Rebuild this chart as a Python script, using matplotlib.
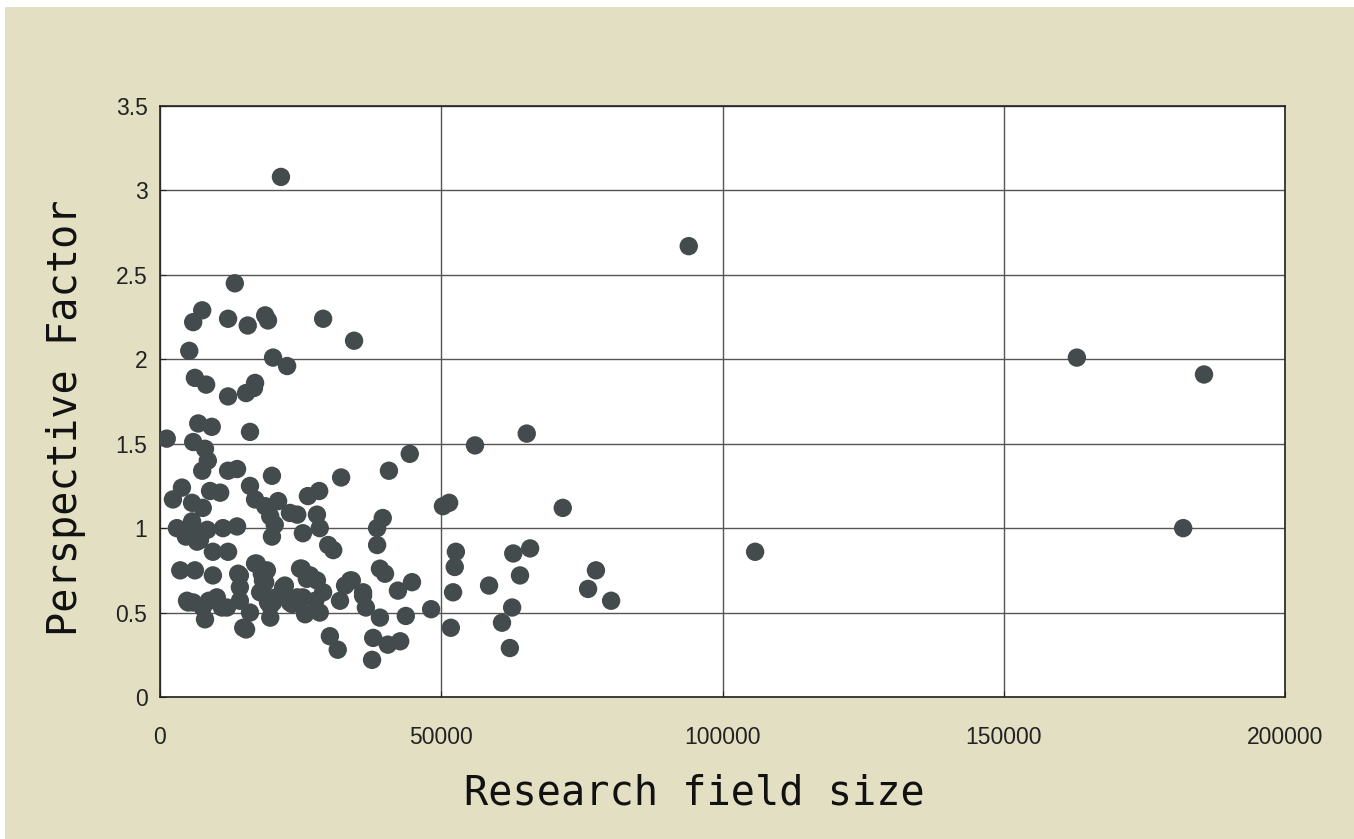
import matplotlib
matplotlib.use("Agg")
import matplotlib.pyplot as plt
from matplotlib.patches import Rectangle

# research field size vs perspective factor
field_size = [
    21500, 13300,
    5900, 7500, 12100, 15600, 18700, 19200, 29000, 34500,
    5200, 20100, 22600,
    6200, 8200, 16900, 16700, 12100, 15300,
    6800, 9200, 16000, 1200, 5900, 8000, 8500, 7500, 12100, 13700,
    19900, 32200, 40700, 56000, 65200, 44400,
    3900, 2300, 5700, 7600, 8900, 10700, 16000, 16900, 18700, 21000,
    19600, 23100, 24400, 26300, 28300, 27900, 28400, 20400, 19900, 25400,
    29900, 30800, 38600, 39600, 38600, 3000, 5700, 5900, 6600, 8400,
    11200, 13700, 9400, 12100, 7100, 4600, 5000,
    50300, 51400, 71600, 52600, 62800, 65800, 105800,
    3600, 6200, 9400, 13900, 14200, 16900, 18100, 18700, 17800, 19200,
    21900, 25200, 26100, 29000, 32000, 33800, 36100, 39100, 40000, 42300,
    44800,
    5000, 7600, 8000, 10100, 11900, 16000, 14800, 15300, 20100, 19600,
    23500, 25800, 28400, 25400, 30200, 31600, 36100, 36600, 39100, 37900,
    37700, 40500, 42700, 48200, 43700, 52100, 51700, 58500, 62600, 60800,
    62200, 64000, 76100, 77500, 80200, 52400,
    4800, 5900, 8700, 11000, 14200, 18300, 19600, 20600, 23100, 24400,
    27600, 32900, 34100, 24900, 26700, 27900, 22200, 19000, 18300, 17200,
    14200,
    94000, 163000, 185600, 181900,
]
perspective = [
    3.08, 2.45,
    2.22, 2.29, 2.24, 2.20, 2.26, 2.23, 2.24, 2.11,
    2.05, 2.01, 1.96,
    1.89, 1.85, 1.86, 1.83, 1.78, 1.80,
    1.62, 1.60, 1.57, 1.53, 1.51, 1.47, 1.40, 1.34, 1.34, 1.35,
    1.31, 1.30, 1.34, 1.49, 1.56, 1.44,
    1.24, 1.17, 1.15, 1.12, 1.22, 1.21, 1.25, 1.17, 1.13, 1.16,
    1.07, 1.09, 1.08, 1.19, 1.22, 1.08, 1.00, 1.02, 0.95, 0.97,
    0.90, 0.87, 1.00, 1.06, 0.90, 1.00, 1.04, 0.96, 0.92, 0.99,
    1.00, 1.01, 0.86, 0.86, 0.93, 0.95, 0.98,
    1.13, 1.15, 1.12, 0.86, 0.85, 0.88, 0.86,
    0.75, 0.75, 0.72, 0.73, 0.65, 0.79, 0.73, 0.68, 0.62, 0.56,
    0.65, 0.76, 0.70, 0.62, 0.57, 0.69, 0.62, 0.76, 0.73, 0.63,
    0.68,
    0.56, 0.53, 0.46, 0.59, 0.53, 0.50, 0.41, 0.40, 0.56, 0.47,
    0.55, 0.49, 0.50, 0.59, 0.36, 0.28, 0.60, 0.53, 0.47, 0.35,
    0.22, 0.31, 0.33, 0.52, 0.48, 0.62, 0.41, 0.66, 0.53, 0.44,
    0.29, 0.72, 0.64, 0.75, 0.57, 0.77,
    0.57, 0.56, 0.57, 0.53, 0.57, 0.62, 0.54, 0.59, 0.56, 0.59,
    0.57, 0.66, 0.69, 0.76, 0.72, 0.69, 0.66, 0.75, 0.69, 0.79,
    0.72,
    2.67, 2.01, 1.91, 1.00,
]

x_ticks = [0, 50000, 100000, 150000, 200000]
y_ticks = [0, 0.5, 1, 1.5, 2, 2.5, 3, 3.5]
y_tick_labels = ["0", "0.5", "1", "1.5", "2", "2.5", "3", "3.5"]

W, H = 1354, 839
fig = plt.figure(figsize=(W / 100, H / 100), dpi=100, facecolor="white")
bg = Rectangle((5 / W, 0), 1, (H - 7) / H, transform=fig.transFigure,
               facecolor="#e3dfc3", edgecolor="none", zorder=-10)
fig.add_artist(bg)

ax = fig.add_axes([160 / W, (H - 697) / H, 1125 / W, 591 / H])
ax.set_zorder(5)
ax.set_facecolor("white")
ax.scatter(field_size, perspective, s=175, color="#434b4d", edgecolors="none",
           zorder=3)

ax.set_xlim(0, 200000)
ax.set_ylim(0, 3.5)
ax.set_xticks(x_ticks)
ax.set_xticklabels([str(t) for t in x_ticks])
ax.set_yticks(y_ticks)
ax.set_yticklabels(y_tick_labels)
ax.grid(True, color="#555555", linewidth=1.0, zorder=1)
ax.set_axisbelow(True)
for s in ax.spines.values():
    s.set_color("#222222")
    s.set_linewidth(1.2)
ax.tick_params(direction="in", length=4, color="#222222", pad=9,
               labelsize=16.5, labelcolor="#222222")
for lab in ax.get_xticklabels() + ax.get_yticklabels():
    lab.set_fontfamily("Liberation Sans")
ax.tick_params(axis="x", pad=21)

ax.set_xlabel("Research field size", fontsize=29, family="DejaVu Sans Mono",
              color="#111111")
ax.set_ylabel("Perspective Factor", fontsize=29, family="DejaVu Sans Mono",
              color="#111111")
ax.xaxis.set_label_coords(0.475, -0.13)
ax.yaxis.set_label_coords(-0.066, 0.472)

fig.savefig("out.png", dpi=100, facecolor=fig.get_facecolor())
